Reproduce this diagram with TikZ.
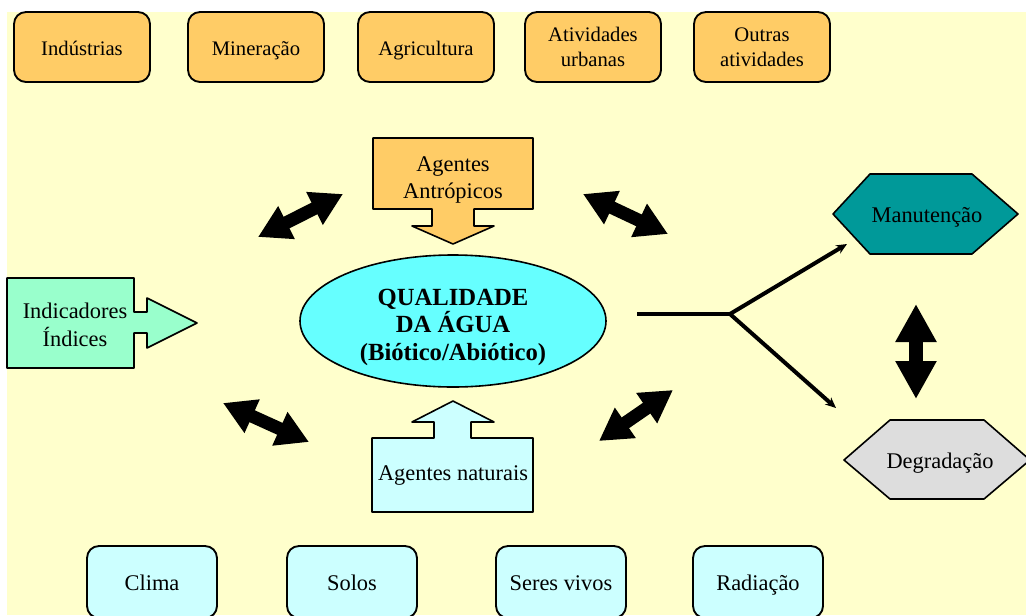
\documentclass[tikz,border=0pt]{standalone}
\usepackage{fontspec}
\setmainfont{Liberation Serif}
\usetikzlibrary{arrows.meta,shapes.geometric}
\definecolor{fundo}{HTML}{FFFFCC}
\definecolor{laranja}{HTML}{FFCC66}
\definecolor{agua}{HTML}{66FFFF}
\definecolor{menta}{HTML}{99FFCC}
\definecolor{azulclaro}{HTML}{CCFFFF}
\definecolor{petroleo}{HTML}{009999}
\definecolor{cinza}{HTML}{DDDDDD}
\begin{document}
\begin{tikzpicture}[x=0.75pt,y=-0.75pt, font=\fontsize{16.8}{20.5}\selectfont, line join=round,
	caixa/.style={draw, line width=1.4pt, rounded corners=9pt, align=center, minimum width=102pt, minimum height=52.5pt, fill=laranja, font=\fontsize{15.5}{19}\selectfont},
	natbox/.style={caixa, fill=azulclaro, minimum width=97.5pt, minimum height=54pt, font=\fontsize{16.8}{20.5}\selectfont},
	linha/.style={text height=12pt, text depth=0pt},
	seta/.style={draw, line width=1.2pt},
	dupla/.style={line width=9.75pt, {Triangle[length=24pt,width=26pt]}-{Triangle[length=24pt,width=26pt]}},
	ramo/.style={line width=3pt, -{Stealth[length=8pt,width=7pt]}}]
	\useasboundingbox (0,0) rectangle (1026,615);
	\clip (0,0) rectangle (1026,615);
	\fill[fundo] (7,12) rectangle (1026,615);
	% fontes antropicas
	\node[caixa, linha] (ind) at (82,47) {Indústrias};
	\node[caixa, linha] (min) at (256,47) {Mineração};
	\node[caixa, linha] (agr) at (426,47) {Agricultura};
	\node[caixa] (urb) at (593,47) {Atividades\\urbanas};
	\node[caixa] (out) at (762,47) {Outras\\atividades};
	% fontes naturais
	\node[natbox, linha] (cli) at (152,582) {Clima};
	\node[natbox, linha] (sol) at (352,582) {Solos};
	\node[natbox, linha] (ser) at (561,582) {Seres vivos};
	\node[natbox, linha] (rad) at (758,582) {Radiação};
	% setas-caixa
	\draw[seta, fill=laranja] (373,138) -- (533,138) -- (533,209) -- (474,209) -- (474,226) -- (494,226) -- (453,244) -- (412,226) -- (432,226) -- (432,209) -- (373,209) -- cycle;
	\node[align=center] (antr) at (453,180) {Agentes\\Antrópicos};
	\draw[seta, fill=azulclaro] (372,438) -- (434,438) -- (434,422) -- (412,422) -- (453,401) -- (494,422) -- (471,422) -- (471,438) -- (533,438) -- (533,512) -- (372,512) -- cycle;
	\node[linha] (nat) at (453,472) {Agentes naturais};
	\draw[seta, fill=menta] (7,278) -- (134,278) -- (134,312) -- (147,312) -- (147,298) -- (197,323) -- (147,348) -- (147,333) -- (134,333) -- (134,368) -- (7,368) -- cycle;
	\node[align=center, font=\fontsize{16.8}{21}\selectfont] (indic) at (75,325) {Indicadores\\Índices};
	% centro
	\node[draw, ellipse, line width=1.2pt, fill=agua, minimum width=229.5pt, minimum height=99pt] (qual) at (453,321) {};
	\node[align=center, font=\fontsize{18.5}{20.6}\selectfont\bfseries] (qualtxt) at (453,327) {QUALIDADE\\DA ÁGUA\\(Biótico/Abiótico)};
	% setas duplas
	\coordinate (a1) at (258,237); \coordinate (b1) at (343,194);
	\coordinate (a2) at (583,194); \coordinate (b2) at (668,234);
	\coordinate (a3) at (223,403); \coordinate (b3) at (309,442);
	\coordinate (a4) at (673,390); \coordinate (b4) at (599,441);
	\foreach \i in {1,...,4}
		\draw[dupla] (a\i) -- (b\i);
	% hexagonos
	\draw[seta, fill=petroleo] (833,214) -- (870,174) -- (972,174) -- (1018,214) -- (972,254) -- (870,254) -- cycle;
	\node[linha] (manut) at (927,214) {Manutenção};
	\draw[seta, fill=cinza] (844,460) -- (890,420) -- (984,420) -- (1030,460) -- (984,499) -- (890,499) -- cycle;
	\node[linha] (degr) at (940,460) {Degradação};
	\coordinate (vtop) at (916,304); \coordinate (vbot) at (916,399);
	\draw[line width=10.5pt, {Triangle[length=28.5pt,width=29pt]}-{Triangle[length=28.5pt,width=29pt]}] (vtop) -- (vbot);
	% bifurcacao
	\coordinate (q0) at (637,314);
	\coordinate (fork) at (730,314);
	\coordinate (mtip) at (847,244);
	\coordinate (dtip) at (836,408);
	\draw[line width=2.4pt] (q0) -- (fork);
	\draw[ramo] (fork) -- (mtip);
	\draw[ramo] (fork) -- (dtip);
\end{tikzpicture}
\end{document}
